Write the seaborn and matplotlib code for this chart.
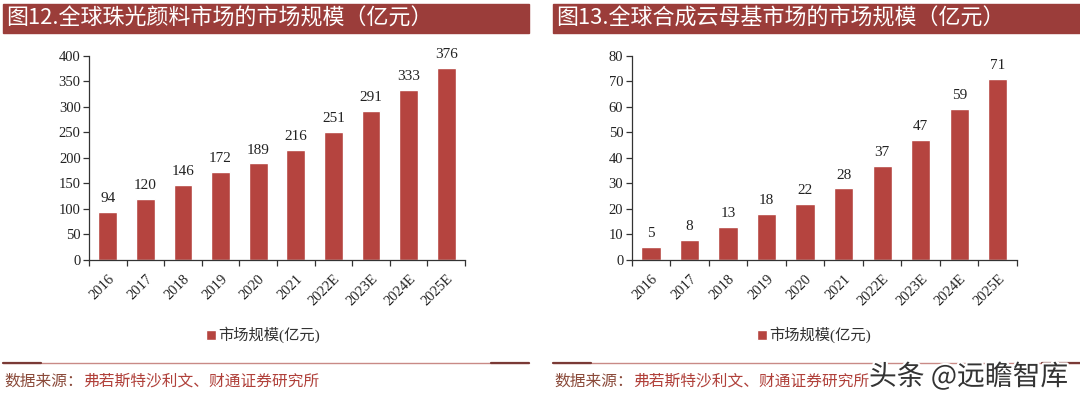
import matplotlib
matplotlib.use('Agg')
import matplotlib.pyplot as plt
import matplotlib.patheffects as pe
from matplotlib.patches import Rectangle
from matplotlib.lines import Line2D
import seaborn as sns
import pandas as pd

# chart data
years = ['2016', '2017', '2018', '2019', '2020', '2021', '2022E', '2023E', '2024E', '2025E']
pearl_pigment = [94, 120, 146, 172, 189, 216, 251, 291, 333, 376]
synthetic_mica = [5, 8, 13, 18, 22, 28, 37, 47, 59, 71]

titles = ['图12.全球珠光颜料市场的市场规模（亿元）', '图13.全球合成云母基市场的市场规模（亿元）']
legend_label = '市场规模(亿元)'
source_head = '数据来源：'
source_body = '弗若斯特沙利文、财通证券研究所'
watermark = '头条 @远瞻智库'

BAR_COLOR = '#B5443F'
BANNER_COLOR = '#9B3D3A'
TEXT_COLOR = '#222222'

sns.set_style('white')
plt.rcParams['font.family'] = ['Liberation Serif', 'Noto Sans CJK SC', 'DejaVu Sans']
plt.rcParams['axes.unicode_minus'] = False

W, H = 1080, 398
fig = plt.figure(figsize=(10.8, 3.98), dpi=100)


def fx(px):
    return px / W


def fy(py):
    return 1 - py / H


def draw_panel(left_px, right_px, axis_left, axis_right, values, ymax, ystep, title, legend_x):
    # title banner
    fig.patches.append(Rectangle((fx(left_px), fy(33)), fx(right_px - left_px), 29 / H,
                                 transform=fig.transFigure, color=BANNER_COLOR, zorder=0))
    fig.text(fx(left_px + 3), fy(19), title, color='white', fontsize=15.8,
             family=['Noto Sans CJK SC', 'DejaVu Sans'], va='center', ha='left')

    ax = fig.add_axes([fx(axis_left), fy(260), fx(axis_right - axis_left), (260 - 55.7) / H])
    df = pd.DataFrame({'year': years, 'value': values})
    sns.barplot(data=df, x='year', y='value', color=BAR_COLOR, width=0.5,
                saturation=1, label=legend_label, ax=ax)
    ax.bar_label(ax.containers[0], fmt='%d', padding=5, fontsize=11, color=TEXT_COLOR)

    ax.set_xlim(-0.5, len(years) - 0.5)
    ax.set_ylim(0, ymax)
    ax.set_yticks(range(0, ymax + 1, ystep))
    ax.set_xlabel('')
    ax.set_ylabel('')
    sns.despine(ax=ax, top=True, right=True)
    for s in ['left', 'bottom']:
        ax.spines[s].set_color('#333333')
        ax.spines[s].set_linewidth(0.9)

    ax.tick_params(axis='y', direction='out', length=4, width=0.9, color='#333333',
                   labelsize=10.5, labelcolor=TEXT_COLOR, pad=2, left=True)
    ax.set_xticks(range(len(years)))
    ax.set_xticklabels(years, rotation=45, ha='right', rotation_mode='anchor')
    ax.tick_params(axis='x', which='major', length=0, labelsize=10.5, labelcolor=TEXT_COLOR, pad=9)
    ax.set_xticks([i - 0.5 for i in range(len(years) + 1)], minor=True)
    ax.tick_params(axis='x', which='minor', direction='out', length=4, width=0.9,
                   color='#333333', bottom=True)

    ax.legend(loc='center', bbox_to_anchor=(fx(legend_x), fy(335)), bbox_transform=fig.transFigure,
              frameon=False, fontsize=11, handlelength=0.6, handleheight=0.6,
              handletextpad=0.15, labelcolor='#333333')

    # source line and text
    fig.add_artist(Line2D([fx(left_px), fx(right_px)], [fy(363), fy(363)],
                          color='#C98A86', lw=1.0))
    fig.add_artist(Line2D([fx(left_px), fx(left_px + 38)], [fy(363), fy(363)],
                          color='#7A3A36', lw=1.6))
    fig.add_artist(Line2D([fx(right_px - 38), fx(right_px)], [fy(363), fy(363)],
                          color='#7A3A36', lw=1.6))
    t = fig.text(fx(left_px + 1), fy(381), source_head, color='#8A4A3A', fontsize=11.3,
                 family=['Noto Sans CJK SC'], va='center', ha='left')
    fig.canvas.draw()
    bb = t.get_window_extent()
    fig.text(bb.x1 / W, fy(381), source_body, color='#B0403A', fontsize=11.3,
             family=['Noto Sans CJK SC'], va='center', ha='left')
    return ax


draw_panel(3, 529, 89, 465, pearl_pigment, 400, 50, titles[0], 263)
draw_panel(553, 1080, 631.7, 1017, synthetic_mica, 80, 10, titles[1], 814)

fig.text(fx(869), fy(377), watermark, color='#333333', fontsize=20,
         family=['Noto Sans CJK SC', 'DejaVu Sans'], va='center', ha='left',
         path_effects=[pe.withStroke(linewidth=3, foreground='white')])

fig.savefig('out.png', dpi=100)
